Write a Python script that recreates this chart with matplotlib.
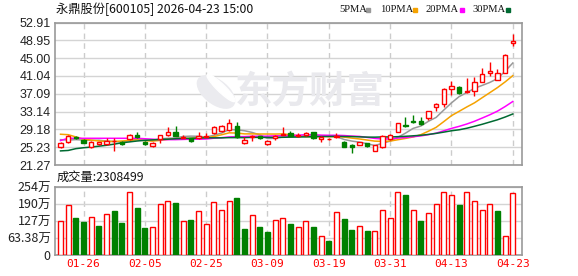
import numpy as np
import matplotlib
matplotlib.use("Agg")
import matplotlib.pyplot as plt
from matplotlib.patches import Ellipse

# daily k-line, 2026-01-?? .. 2026-04-23
opens = [25.3, 26.3, 27.5, 26.9, 25.3, 25.9, 26.0, 26.5, 26.4, 27.0,
         27.9, 26.4, 25.5, 27.0, 28.0, 28.6, 27.3, 27.2, 27.2, 27.5,
         28.4, 28.9, 29.0, 29.9, 26.1, 27.4, 27.6, 25.9, 27.2, 28.0,
         28.3, 27.8, 27.9, 28.5, 27.0, 27.0, 27.5, 26.4, 25.8, 25.8,
         26.1, 24.4, 25.2, 27.0, 28.6, 30.2, 31.1, 31.0, 31.6, 34.2,
         34.9, 38.2, 38.5, 37.4, 37.7, 39.7, 41.6, 40.2, 41.8, 48.4]
closes = [26.1, 27.7, 27.2, 26.25, 26.4, 26.3, 26.7, 26.6, 25.9, 28.0,
          27.4, 25.9, 26.2, 27.9, 28.6, 27.8, 27.5, 26.6, 27.7, 27.8,
          29.7, 30.0, 30.5, 27.4, 26.8, 27.8, 27.2, 26.6, 27.6, 28.2,
          27.8, 28.0, 28.3, 27.2, 27.5, 27.1, 27.6, 25.3, 25.25, 26.3,
          25.4, 25.6, 27.7, 27.9, 30.5, 30.0, 30.9, 30.3, 33.2, 34.8,
          38.2, 38.8, 37.3, 37.6, 39.6, 41.4, 42.1, 41.6, 45.8, 48.7]
highs = [26.3, 27.9, 27.7, 27.0, 26.5, 26.4, 27.3, 27.3, 26.5, 28.1,
         28.6, 26.5, 26.3, 28.0, 29.7, 29.9, 27.9, 27.3, 28.5, 28.4,
         29.9, 30.2, 31.5, 30.8, 27.5, 28.0, 27.8, 26.8, 27.9, 29.6,
         28.9, 28.4, 28.5, 28.6, 27.6, 27.3, 28.4, 26.5, 25.9, 26.4,
         26.2, 25.7, 28.0, 28.1, 30.6, 32.0, 32.3, 32.0, 33.3, 35.0,
         38.3, 39.9, 38.8, 40.6, 40.7, 42.7, 44.1, 42.5, 45.9, 50.4]
lows = [25.1, 26.2, 27.0, 26.2, 25.0, 25.8, 25.8, 24.4, 25.8, 26.9,
        27.3, 25.8, 25.3, 26.1, 27.7, 27.7, 27.2, 26.4, 27.1, 27.4,
        28.2, 28.6, 28.9, 27.3, 26.0, 26.7, 27.0, 25.8, 26.9, 27.9,
        27.6, 27.5, 27.8, 27.0, 26.4, 26.8, 27.3, 25.2, 24.0, 25.7,
        25.2, 24.3, 25.1, 26.9, 28.5, 29.7, 30.7, 30.2, 31.2, 33.2,
        34.2, 36.8, 37.1, 37.2, 36.5, 39.6, 41.0, 40.1, 41.7, 47.6]

ma5 = [26.9, 26.8, 26.9, 26.8, 26.74, 26.78, 26.58, 26.48, 26.38, 26.72,
       26.94, 26.78, 26.68, 27.08, 27.2, 27.28, 27.6, 27.68, 27.64, 27.48,
       27.86, 28.36, 29.14, 29.08, 28.88, 28.5, 27.94, 27.16, 27.2, 27.48,
       27.48, 27.64, 27.98, 27.9, 27.76, 27.62, 27.54, 26.94, 26.58, 26.34,
       26.0, 25.6, 26.08, 26.58, 27.42, 28.34, 29.4, 29.92, 30.98, 31.84,
       33.48, 35.06, 36.46, 37.34, 38.3, 38.94, 39.6, 40.46, 42.1, 43.92]
ma10 = [28.1, 28.0, 27.5, 27.0, 26.8, 26.6, 26.5, 26.5, 26.6, 26.73,
        26.86, 26.68, 26.58, 26.73, 26.96, 27.11, 27.19, 27.18, 27.36, 27.34,
        27.57, 27.98, 28.41, 28.36, 28.18, 28.18, 28.15, 28.15, 28.14, 28.18,
        27.99, 27.79, 27.57, 27.55, 27.62, 27.55, 27.59, 27.46, 27.24, 27.05,
        26.81, 26.57, 26.51, 26.58, 26.88, 27.17, 27.5, 28.0, 28.78, 29.63,
        30.91, 32.23, 33.19, 34.16, 35.07, 36.21, 37.33, 38.46, 39.72, 41.11]
ma20 = [26.7, 27.2, 27.2, 27.2, 27.2, 27.2, 27.2, 27.2, 27.2, 27.2,
        27.2, 27.1, 27.0, 26.9, 26.9, 26.9, 26.95, 27.0, 27.0, 27.04,
        27.22, 27.33, 27.5, 27.55, 27.57, 27.65, 27.67, 27.67, 27.75, 27.76,
        27.78, 27.89, 27.99, 27.96, 27.9, 27.87, 27.87, 27.81, 27.69, 27.62,
        27.4, 27.18, 27.04, 27.07, 27.25, 27.36, 27.55, 27.73, 28.01, 28.34,
        28.86, 29.4, 29.85, 30.37, 30.98, 31.69, 32.42, 33.23, 34.25, 35.37]
ma30 = [24.4, 24.5, 24.9, 25.1, 25.25, 25.45, 25.65, 25.9, 26.2, 26.4,
        26.6, 26.75, 26.85, 26.95, 27.0, 27.1, 27.15, 27.2, 27.25, 27.3,
        27.3, 27.3, 27.35, 27.35, 27.35, 27.4, 27.4, 27.4, 27.4, 27.42,
        27.47, 27.48, 27.52, 27.55, 27.59, 27.61, 27.64, 27.6, 27.58, 27.52,
        27.46, 27.45, 27.5, 27.5, 27.56, 27.64, 27.75, 27.87, 28.06, 28.29,
        28.57, 28.87, 29.09, 29.43, 29.86, 30.31, 30.81, 31.31, 31.92, 32.6]

# volume in 万 shares, and up(1)/down(0) colour of each volume bar
volume = [126.4, 185.9, 137.5, 123.9, 141.2, 109, 152.4, 164.8, 120.2, 234.2,
          174.7, 101.6, 104, 190.8, 203.2, 194.5, 126.4, 130.1, 163.5, 115.2,
          197, 167.3, 200.7, 213.1, 97.9, 148.7, 105.3, 86.7, 130.1, 137.5,
          116.5, 104, 126.4, 104, 70.6, 53.3, 159.8, 133.8, 92.9, 107.8,
          90.4, 89.2, 169.7, 137.5, 236.6, 224.3, 169.7, 126.4, 156.1, 189.6,
          236.6, 223, 187.1, 236.6, 203.2, 169.7, 189.6, 163.5, 69.4, 230.8499]
vol_up = [1, 1, 0, 0, 1, 0, 1, 0, 0, 1,
          0, 0, 1, 1, 1, 0, 1, 0, 1, 1,
          1, 1, 1, 0, 0, 1, 0, 0, 1, 1,
          0, 1, 1, 0, 1, 0, 1, 0, 0, 1,
          0, 1, 1, 1, 1, 0, 1, 0, 1, 1,
          1, 1, 0, 1, 1, 1, 1, 0, 1, 1]

tick_idx = [3, 11, 19, 27, 35, 43, 51, 59]
tick_labels = ['01-26', '02-05', '02-25', '03-09', '03-19', '03-31', '04-13', '04-23']
price_ticks = [21.27, 25.23, 29.18, 33.14, 37.09, 41.04, 45.00, 48.95, 52.91]
vol_ticks = [0, 63.38, 127, 190, 254]
vol_tick_labels = ['0', '63.38万', '127万', '190万', '254万']

ma_names = ['5PMA', '10PMA', '20PMA', '30PMA']
ma_colors = ['#999999', '#f5a200', '#ff00ff', '#006a32']

RED = '#ff0000'
GREEN = '#008000'
FONT = ['Liberation Sans', 'Noto Sans CJK SC']
CJK = ['Noto Sans CJK SC', 'DejaVu Sans']

W, H = 578, 276
fig = plt.figure(figsize=(W / 100, H / 100), dpi=100)

def box(l, t, r, b):
    return [l / W, 1 - b / H, (r - l) / W, (b - t) / H]

ax = fig.add_axes(box(55, 22.5, 522, 165))
axv = fig.add_axes(box(55, 187, 522, 255))

x = np.arange(len(closes))
o = np.array(opens); c = np.array(closes)
up = c >= o
col = np.where(up, RED, GREEN)

# price panel
ax.vlines(x, lows, highs, colors=col, lw=1, zorder=3)
bot = np.minimum(o, c)
hgt = np.maximum(np.abs(c - o), 0.12)
ax.bar(x, hgt, bottom=bot, width=0.6, facecolor=np.where(up, 'white', GREEN),
       edgecolor=col, linewidth=1, zorder=4)

for ma, cc in zip([ma5, ma10, ma20, ma30], ma_colors):
    ax.plot(x, ma, color=cc, lw=1.1, zorder=2)

# volume panel
vcol = [RED if u else GREEN for u in vol_up]
vface = ['white' if u else GREEN for u in vol_up]
axv.bar(x, np.array(volume) * 1e4, width=0.62, facecolor=vface, edgecolor=vcol,
        linewidth=1, zorder=3)

for a in (ax, axv):
    a.set_xlim(-0.72, 60.2)
    a.set_xticks(tick_idx)
    a.grid(axis='x', color='#cccccc', ls=(0, (4, 3)), lw=1)
    a.grid(axis='y', color='#d4d4d4', ls='-', lw=1)
    a.set_axisbelow(True)
    a.tick_params(length=0, pad=3, labelsize=9, labelcolor='#222222')
    for s in a.spines.values():
        s.set_color('#999999')
        s.set_linewidth(1.2)

ax.set_ylim(21.27, 52.91)
ax.set_yticks(price_ticks)
ax.set_yticklabels(['%.2f' % v for v in price_ticks], family=FONT)
ax.set_xticklabels([])

axv.set_ylim(0, 2535200)
axv.set_yticks([v * 1e4 for v in vol_ticks])
axv.set_yticklabels(vol_tick_labels, family=CJK)
axv.set_xticklabels(tick_labels, family='DejaVu Sans Mono', fontsize=8, color=RED)

# watermark: logo blob + text
fig.patches.append(Ellipse((216 / W, 1 - 92 / H), 30 / W, 34 / H, angle=20,
                           transform=fig.transFigure, color='#ebebef', zorder=0))
fig.patches.append(Ellipse((221 / W, 1 - 88 / H), 10 / W, 30 / H, angle=25,
                           transform=fig.transFigure, color='white', zorder=0))
fig.text(310 / W, 1 - 92 / H, '东方财富', family=CJK, fontsize=27, weight='bold',
         color='#e9e9ed', ha='center', va='center', zorder=0)

# header and legend
fig.text(56 / W, 1 - 9 / H, '永鼎股份[600105] 2026-04-23 15:00', family=CJK,
         fontsize=8.8, color='#111111', va='center')
for name, cc, lx, sx in zip(ma_names, ma_colors, [339, 380, 426, 472],
                            [366, 413, 460, 506]):
    fig.text(lx / W, 1 - 9.5 / H, name, family='Liberation Serif', fontsize=7.6,
             color='#111111', va='center')
    fig.patches.append(plt.Rectangle((sx / W, 1 - 11.5 / H), 4 / W, 4 / H,
                                     transform=fig.transFigure, color=cc))

fig.text(57 / W, 1 - 177 / H, '成交量:2308499', family=CJK, fontsize=8.8,
         color='#111111', va='center')

fig.savefig('out.png', dpi=100)
